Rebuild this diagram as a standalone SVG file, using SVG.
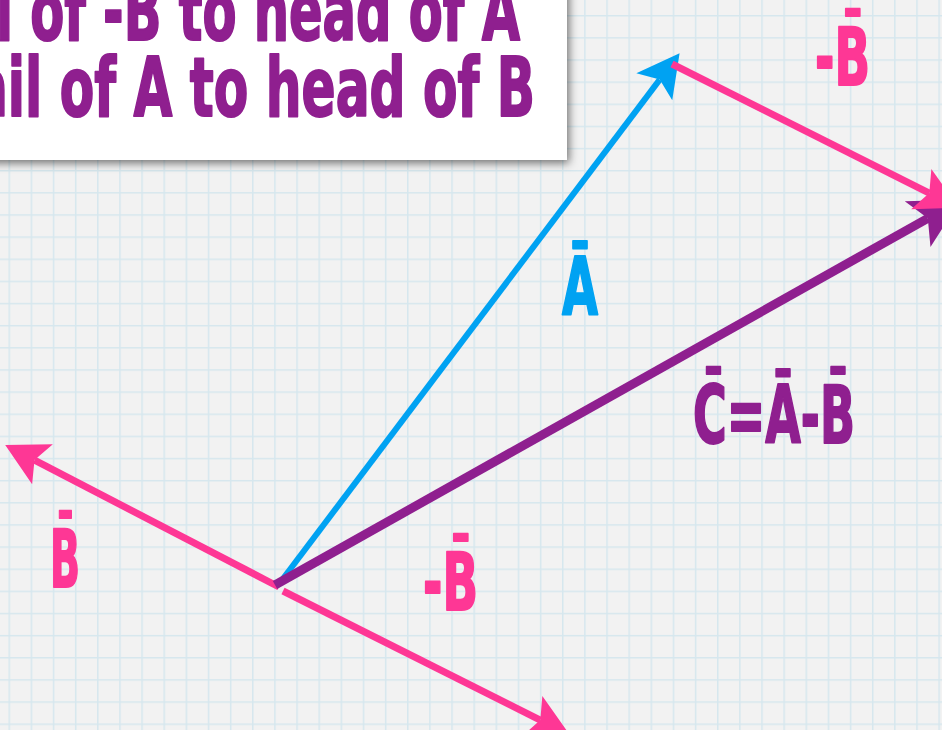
<svg xmlns="http://www.w3.org/2000/svg" width="942" height="730" viewBox="0 0 942 730">
<defs>
<pattern id="grid" patternUnits="userSpaceOnUse" x="8.5" y="15" width="22.14" height="22.14">
<path d="M0 0.75H22.14M0.75 0V22.14" stroke="#d6e7ee" stroke-width="1.5" fill="none"/>
</pattern>
<filter id="shadow" x="-10%" y="-20%" width="130%" height="160%">
<feDropShadow dx="2" dy="3" stdDeviation="5" flood-color="#000" flood-opacity="0.55"/>
</filter>
<marker id="hBlue" markerUnits="userSpaceOnUse" orient="auto" refX="0" refY="0" markerWidth="60" markerHeight="60" viewBox="-10 -20 40 40" overflow="visible">
<path d="M22 0L-6 -15L0 0L-6 15Z" fill="#00a2f2"/>
</marker>
<marker id="hPink" markerUnits="userSpaceOnUse" orient="auto" refX="0" refY="0" markerWidth="60" markerHeight="60" viewBox="-10 -20 40 40" overflow="visible">
<path d="M22 0L-6 -15L0 0L-6 15Z" fill="#fe3795"/>
</marker>
<marker id="hPurple" markerUnits="userSpaceOnUse" orient="auto" refX="0" refY="0" markerWidth="70" markerHeight="70" viewBox="-12 -24 48 48" overflow="visible">
<path d="M26 0L-8 -18L0 0L-8 18Z" fill="#8f1f8f"/>
</marker>
</defs>
<style>
.hand{font-family:"Liberation Sans Narrow","DejaVu Sans Condensed","DejaVu Sans",sans-serif;font-weight:bold;stroke-linejoin:round;stroke-linecap:round;stroke-width:2}
.purple{fill:#8f1f8f;stroke:#8f1f8f}
.pink{fill:#fe3795;stroke:#fe3795}
.blue{fill:#00a2f2;stroke:#00a2f2}
.vec{fill:none;stroke-linecap:butt}
</style>
<rect width="942" height="730" fill="#f2f2f2"/>
<rect width="942" height="730" fill="url(#grid)"/>

<g id="note">
<rect x="-20" y="-20" width="587" height="180" fill="#ffffff" filter="url(#shadow)"/>
<text class="hand purple" x="-4" y="40" font-size="82" textLength="524" lengthAdjust="spacingAndGlyphs">l of -B to head of A</text>
<text class="hand purple" x="-26" y="116" font-size="82" textLength="561" lengthAdjust="spacingAndGlyphs">ail of A to head of B</text>
</g>

<g id="connectors">
<line id="vecA" class="vec" x1="279" y1="584" x2="659.7" y2="79.6" stroke="#00a2f2" stroke-width="6" marker-end="url(#hBlue)"/>
<line id="vecB" class="vec" x1="279" y1="587" x2="34.5" y2="460.1" stroke="#fe3795" stroke-width="7" marker-end="url(#hPink)"/>
<line id="vecNegB1" class="vec" x1="283" y1="591" x2="540.3" y2="720.1" stroke="#fe3795" stroke-width="7" marker-end="url(#hPink)"/>
<line id="vecC" class="vec" x1="275" y1="585" x2="927.8" y2="218.3" stroke="#8f1f8f" stroke-width="9" marker-end="url(#hPurple)"/>
<line id="vecNegB2" class="vec" x1="672" y1="64" x2="929.3" y2="193.1" stroke="#fe3795" stroke-width="7" marker-end="url(#hPink)"/>
</g>

<g id="labelA"><text class="hand blue" x="562" y="315" font-size="80" textLength="36" lengthAdjust="spacingAndGlyphs">A&#x304;</text></g>
<g id="labelB"><text class="hand pink" x="50" y="587" font-size="80" textLength="30" lengthAdjust="spacingAndGlyphs">B&#x304;</text></g>
<g id="labelNegB1"><text class="hand pink" x="423" y="610" font-size="80" textLength="55" lengthAdjust="spacingAndGlyphs">-B&#x304;</text></g>
<g id="labelNegB2"><text class="hand pink" x="815" y="85" font-size="80" textLength="55" lengthAdjust="spacingAndGlyphs">-B&#x304;</text></g>
<g id="labelC"><text class="hand purple" x="693" y="443" font-size="80" textLength="162" lengthAdjust="spacingAndGlyphs">C&#x304;=A&#x304;-B&#x304;</text></g>
</svg>
